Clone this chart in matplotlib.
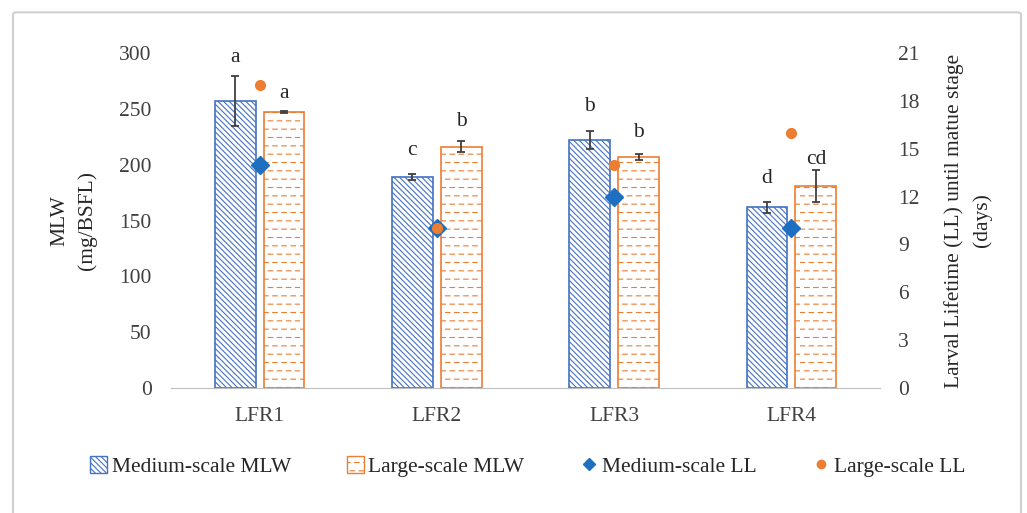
import numpy as np
import matplotlib
matplotlib.use("Agg")
import matplotlib.pyplot as plt
import matplotlib.hatch as mhatch
from matplotlib.path import Path
from matplotlib.patches import Patch, FancyBboxPatch
from matplotlib.lines import Line2D


# dashed horizontal hatch, used in place of the plain '-' one
class DashedHorizontal(mhatch.HatchPatternBase):
    def __init__(self, hatch, density):
        self.num_rows = int((hatch.count('-') + hatch.count('+')) * density)
        self.num_dash = 11
        self.num_lines = self.num_rows * self.num_dash
        self.num_vertices = self.num_lines * 2

    def set_vertices_and_codes(self, vertices, codes):
        steps, stepsize = np.linspace(0.0, 1.0, self.num_rows, False, retstep=True)
        steps += stepsize / 2.
        per = 1.0 / self.num_dash
        k = 0
        for i, y in enumerate(steps):
            shift = per / 2. if i % 2 else 0.0
            for j in range(self.num_dash):
                x0 = (j * per + shift) % 1.0
                x1 = min(x0 + per * 0.5, 1.0)
                vertices[k] = (x0, y)
                vertices[k + 1] = (x1, y)
                codes[k] = Path.MOVETO
                codes[k + 1] = Path.LINETO
                k += 2


mhatch._hatch_types[0] = DashedHorizontal

plt.rcParams['font.family'] = ['Liberation Serif', 'DejaVu Serif']
plt.rcParams['hatch.linewidth'] = 0.8

categories = ["LFR1", "LFR2", "LFR3", "LFR4"]
mlw_medium = [257, 189, 222, 162]
mlw_medium_err = [22, 3, 8, 5]
mlw_large = [247, 216, 207, 181]
mlw_large_err = [1, 5, 3, 14]
ll_medium = [14, 10, 12, 10]
ll_large = [19, 10, 14, 16]
letters_medium = ["a", "c", "b", "d"]
letters_large = ["a", "b", "b", "cd"]
letters_medium_y = [292, 209, 248, 184]
letters_large_y = [260, 235, 225, 201]

blue = "#4472C4"
orange = "#ED7D31"
err_color = "#404040"
fs = 15.5

fig = plt.figure(figsize=(10.27, 5.13), dpi=100)
fig.patches.append(FancyBboxPatch((13 / 1027, -0.05), 1008 / 1027, 1.026,
                                  boxstyle="round,pad=0,rounding_size=0.004",
                                  transform=fig.transFigure, fill=False,
                                  edgecolor="#d0d0d0", linewidth=1.5))

ax = fig.add_axes([171 / 1027, 1 - 388 / 513, 709 / 1027, 335 / 513])
x = np.arange(len(categories))
w = 0.23
off = 0.138

ax.bar(x - off, mlw_medium, w, color="white", edgecolor=blue, hatch="\\\\\\\\\\\\",
       linewidth=1.2, yerr=mlw_medium_err, ecolor=err_color,
       error_kw=dict(capsize=3.2, elinewidth=1.3, capthick=1.3))
ax.bar(x + off, mlw_large, w, color="white", edgecolor=orange, hatch="--",
       linewidth=1.2, yerr=mlw_large_err, ecolor=err_color,
       error_kw=dict(capsize=3.2, elinewidth=1.3, capthick=1.3))

for i in range(len(categories)):
    ax.text(x[i] - off, letters_medium_y[i], letters_medium[i], ha="center",
            va="baseline", fontsize=fs, color="#262626")
    ax.text(x[i] + off, letters_large_y[i], letters_large[i], ha="center",
            va="baseline", fontsize=fs, color="#262626")

ax.set_xlim(-0.5, len(categories) - 0.5)
ax.set_ylim(0, 300)
ax.set_yticks(np.arange(0, 301, 50))
ax.set_xticks(x)
ax.set_xticklabels(categories)
ax.tick_params(axis="both", length=0, labelsize=fs, colors="#404040")
ax.tick_params(axis="y", pad=14)
ax.tick_params(axis="x", pad=14)
for s in ["top", "right", "left"]:
    ax.spines[s].set_visible(False)
ax.spines["bottom"].set_color("#bfbfbf")
ax.set_ylabel("MLW\n(mg/BSFL)", fontsize=fs, color="#262626", labelpad=16,
              linespacing=1.5)

ax2 = ax.twinx()
ax2.plot(x, ll_medium, linestyle="none", marker="D", markersize=9, color="#1f6fc0")
ax2.plot(x, ll_large, linestyle="none", marker="o", markersize=7, color=orange)
ax2.set_ylim(0, 21)
ax2.set_yticks(np.arange(0, 22, 3))
ax2.tick_params(axis="y", length=0, labelsize=fs, colors="#404040", pad=13)
for s in ["top", "right", "left", "bottom"]:
    ax2.spines[s].set_visible(False)
ax2.set_ylabel("Larval Lifetime (LL) until matue stage\n(days)", fontsize=fs,
               color="#262626", labelpad=18, linespacing=1.5)

handles = [
    Patch(facecolor="white", edgecolor=blue, hatch="\\\\\\\\\\\\", label="Medium-scale MLW"),
    Patch(facecolor="white", edgecolor=orange, hatch="--", label="Large-scale MLW"),
    Line2D([], [], linestyle="none", marker="D", markersize=6, color="#1f6fc0",
           label="Medium-scale LL"),
    Line2D([], [], linestyle="none", marker="o", markersize=6, color=orange,
           label="Large-scale LL"),
]
fig.legend(handles=handles, loc="center", bbox_to_anchor=(0.514, 0.09), ncol=4,
           frameon=False, fontsize=fs, handlelength=0.8, handleheight=0.8,
           handletextpad=0.2, columnspacing=2.6, labelcolor="#262626")

fig.savefig("out.png", dpi=100)
